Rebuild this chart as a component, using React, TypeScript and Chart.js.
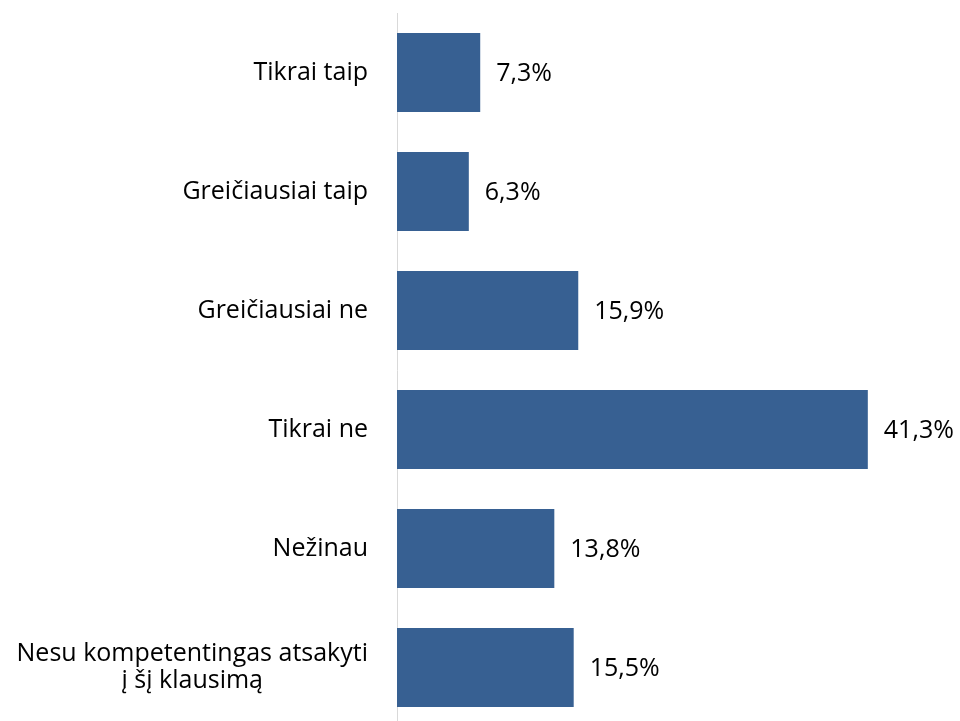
import React, { useEffect, useRef } from "react";
import { Chart, registerables } from "chart.js";

Chart.register(...registerables);

const categories: string[][] = [
  ["Tikrai taip"],
  ["Greičiausiai taip"],
  ["Greičiausiai ne"],
  ["Tikrai ne"],
  ["Nežinau"],
  ["Nesu kompetentingas atsakyti", "į šį klausimą"],
];
const values: number[] = [7.3, 6.3, 15.9, 41.3, 13.8, 15.5];
const xMax = 45;

const FONT = "25px 'Open Sans', sans-serif";

const labelPlugin = {
  id: "customLabels",
  afterDatasetsDraw(chart: any) {
    const ctx = chart.ctx;
    const meta = chart.getDatasetMeta(0);
    const area = chart.chartArea;
    ctx.save();
    ctx.font = FONT;
    ctx.fillStyle = "#000000";
    ctx.textBaseline = "middle";
    meta.data.forEach((bar: any, i: number) => {
      ctx.textAlign = "left";
      const txt = values[i].toFixed(1).replace(".", ",") + "%";
      ctx.fillText(txt, bar.x + 16, bar.y + 1);
      const lines = categories[i];
      const lineH = 27;
      const rightX = area.left - 29;
      const widths = lines.map((l) => ctx.measureText(l).width);
      const maxW = Math.max(...widths);
      const centerX = rightX - maxW / 2;
      const startY = bar.y - ((lines.length - 1) * lineH) / 2;
      lines.forEach((l, j) => {
        ctx.textAlign = "center";
        ctx.fillText(l, centerX, startY + j * lineH);
      });
    });
    ctx.restore();
  },
};

export default function App() {
  const ref = useRef<HTMLCanvasElement | null>(null);
  useEffect(() => {
    if (!ref.current) return;
    const chart = new Chart(ref.current, {
      type: "bar",
      data: {
        labels: categories.map((c) => c.join(" ")),
        datasets: [
          {
            data: values,
            backgroundColor: "#376092",
            borderWidth: 0,
            categoryPercentage: 1,
            barPercentage: 79 / 119,
          },
        ],
      },
      options: {
        indexAxis: "y",
        animation: false,
        responsive: false,
        maintainAspectRatio: false,
        layout: { padding: { left: 397, right: 50, top: 13, bottom: 8 } },
        plugins: { legend: { display: false }, tooltip: { enabled: false } },
        scales: {
          x: { display: false, min: 0, max: xMax },
          y: {
            ticks: { display: false },
            grid: { display: false, drawTicks: false },
            border: { display: true, color: "#d9d9d9", width: 1 },
          },
        },
      },
      plugins: [labelPlugin],
    });
    return () => chart.destroy();
  }, []);
  return (
    <div style={{ position: "absolute", left: 0, top: 0, width: 960, height: 735 }}>
      <canvas ref={ref} width={960} height={735} />
    </div>
  );
}
